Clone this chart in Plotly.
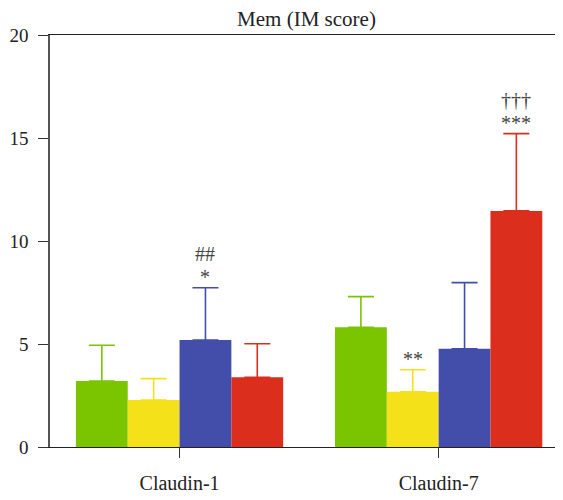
import plotly.graph_objects as go

categories = ["Claudin-1", "Claudin-7"]
series_names = ["Group 1", "Group 2", "Group 3", "Group 4"]
series_colors = ["#7AC400", "#F5E11A", "#434EAA", "#DC2E1C"]
means = [
    [3.20, 5.81],
    [2.28, 2.68],
    [5.19, 4.77],
    [3.38, 11.46],
]
errors = [
    [1.74, 1.49],
    [1.04, 1.07],
    [2.54, 3.21],
    [1.63, 3.75],
]
# significance marks: (series index, category index, text lines top->bottom)
marks = [
    (2, 0, ["##", "*"]),
    (1, 1, ["**"]),
    (3, 1, ["†††", "***"]),
]
y_ticks = [0, 5, 10, 15, 20]
title_text = "Mem (IM score)"

FONT = "Liberation Serif, Times New Roman, serif"

fig = go.Figure()
for name, color, m, e in zip(series_names, series_colors, means, errors):
    fig.add_trace(go.Bar(
        name=name, x=categories, y=m,
        marker=dict(color=color, line=dict(width=0)),
        error_y=dict(type="data", array=e, symmetric=False, arrayminus=[0] * len(e),
                     color=color, thickness=1.6, width=13),
    ))

n = len(series_names)
bw = 0.8 / n
line_shifts = [11, 34]
for si, ci, lines in marks:
    xpos = ci - 0.4 + bw * (si + 0.5)
    top = means[si][ci] + errors[si][ci]
    for k, txt in enumerate(reversed(lines)):
        fig.add_annotation(
            x=xpos, y=top, xref="x", yref="y", text=txt, showarrow=False,
            yanchor="middle", yshift=line_shifts[k],
            font=dict(family=FONT, size=20, color="#444"),
        )

fig.update_layout(
    width=563, height=500,
    margin=dict(l=42, r=8, t=27, b=61, autoexpand=False),
    plot_bgcolor="white", paper_bgcolor="white",
    barmode="group", bargap=0.2, bargroupgap=0,
    showlegend=False,
    font=dict(family=FONT, size=19, color="#222"),
    title=dict(text=title_text, x=0.5, xref="paper", y=1 - 11 / 500, yref="container",
               yanchor="middle", automargin=False,
               font=dict(size=21, family=FONT, color="#222")),
    xaxis=dict(
        range=[-0.5, 1.48], showline=True, linecolor="#222", linewidth=1.3,
        mirror=True, ticks="outside", ticklen=10, tickcolor="#333", tickwidth=1.3,
        showgrid=False, zeroline=False, tickfont=dict(size=20, family=FONT),
        ticklabelstandoff=8, automargin=False,
    ),
    yaxis=dict(
        range=[0, 20], tickvals=y_ticks, showline=True, linecolor="#555", linewidth=1.5,
        ticks="outside", ticklen=10, tickcolor="#333", tickwidth=1.3,
        showgrid=False, zeroline=False, tickfont=dict(size=19, family=FONT),
        ticklabelstandoff=6, automargin=False,
    ),
)

fig.write_html("out.html")
